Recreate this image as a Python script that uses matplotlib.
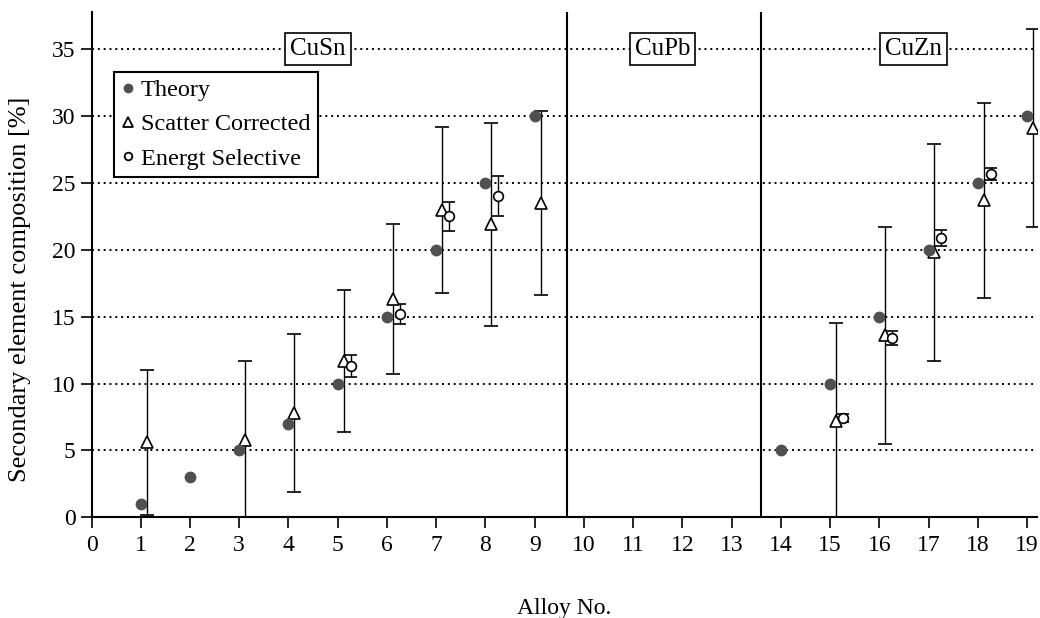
import numpy as np
import matplotlib
matplotlib.use('Agg')
import matplotlib.pyplot as plt
from matplotlib.lines import Line2D

plt.rcParams['font.family'] = ['Liberation Serif', 'DejaVu Serif']

# 理论值
theory_x = [1, 2, 3, 4, 5, 6, 7, 8, 9, 14, 15, 16, 17, 18, 19]
theory_y = [1, 3, 5, 7, 10, 15, 20, 25, 30, 5, 10, 15, 20, 25, 30]

# Scatter corrected
scatter_x = [1, 3, 4, 5, 6, 7, 8, 9, 15, 16, 17, 18, 19]
scatter_y = [5.6, 5.8, 7.8, 11.7, 16.3, 23.0, 21.9, 23.5, 7.2, 13.6, 19.8, 23.7, 29.1]
scatter_err = [5.4, 5.9, 5.9, 5.3, 5.6, 6.2, 7.6, 6.9, 7.3, 8.1, 8.1, 7.3, 7.4]

# Energy selective
energy_x = [5, 6, 7, 8, 15, 16, 17, 18]
energy_y = [11.3, 15.2, 22.5, 24.0, 7.4, 13.4, 20.9, 25.7]
energy_err = [0.8, 0.75, 1.1, 1.5, 0.3, 0.5, 0.6, 0.45]

groups = ['CuSn', 'CuPb', 'CuZn']
group_pos = [4.6, 11.6, 16.7]
dividers = [9.65, 13.6]

fig = plt.figure(figsize=(10.4, 6.18), dpi=100)
ax = fig.add_axes([0.088, 0.163, 0.909, 0.818])

for yy in range(5, 40, 5):
    ax.axhline(yy, color='black', lw=1.4, ls=(0, (1, 2)), zorder=1)
for xv in dividers:
    ax.axvline(xv, color='black', lw=1.5, zorder=2)

ax.plot(theory_x, theory_y, 'o', color='#505050', ms=7.5, zorder=4)
ax.errorbar(np.array(scatter_x) + 0.12, scatter_y, yerr=scatter_err, fmt='^',
            mfc='white', mec='black', ms=8, mew=1.2, ecolor='black', elinewidth=1,
            capsize=5, capthick=1, zorder=3)
ax.errorbar(np.array(energy_x) + 0.26, energy_y, yerr=energy_err, fmt='o',
            mfc='white', mec='black', ms=7, mew=1.2, ecolor='black', elinewidth=1,
            capsize=4, capthick=1, zorder=3)

for name, xp in zip(groups, group_pos):
    ax.text(xp, 35, name, ha='center', va='center', fontsize=18, zorder=5,
            bbox=dict(boxstyle='square,pad=0.2', fc='white', ec='black', lw=1.2))

ax.set_xlim(0, 19.2)
ax.set_ylim(0, 37.8)
ax.set_xticks(range(0, 20))
ax.set_yticks(range(0, 40, 5))
ax.tick_params(axis='both', labelsize=17, direction='out', length=8, width=1.2)
ax.tick_params(axis='x', pad=5)
ax.spines['top'].set_visible(False)
ax.spines['right'].set_visible(False)
ax.spines['left'].set_linewidth(1.5)
ax.spines['bottom'].set_linewidth(1.5)

ax.set_xlabel('Alloy No.', fontsize=17, labelpad=30)
ax.set_ylabel('Secondary element composition [%]', fontsize=19)
ax.yaxis.set_label_coords(-0.064, 0.45)

handles = [
    Line2D([], [], ls='none', marker='o', color='#505050', ms=6),
    Line2D([], [], ls='none', marker='^', mfc='white', mec='black', mew=1.3, ms=7),
    Line2D([], [], ls='none', marker='o', mfc='white', mec='black', mew=1.3, ms=5.5),
]
labels = ['Theory', 'Scatter Corrected', 'Energt Selective']
leg = ax.legend(handles, labels, loc='upper left', bbox_to_anchor=(0.024, 0.881),
                borderaxespad=0, fontsize=17.5, fancybox=False, edgecolor='black',
                framealpha=1, handlelength=0.5, handletextpad=0.3,
                labelspacing=0.5, borderpad=0.3)
leg.get_frame().set_linewidth(1.5)

fig.savefig('out.png', dpi=100)
